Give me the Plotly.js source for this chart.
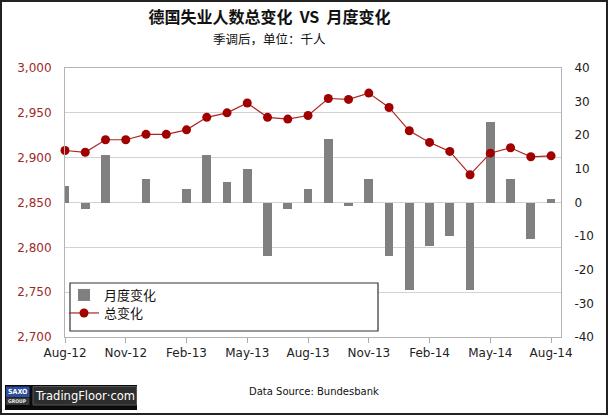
<!DOCTYPE html>
<html>
<head>
<meta charset="utf-8">
<script src="https://cdn.plot.ly/plotly-3.0.1.min.js"></script>
<style>html,body{margin:0;padding:0;background:#fff;}#chart{width:608px;height:415px;}</style>
</head>
<body>
<div id="chart"></div>
<script>
// ---- data ----
const months = ["Aug-12","Sep-12","Oct-12","Nov-12","Dec-12","Jan-13","Feb-13","Mar-13","Apr-13","May-13","Jun-13","Jul-13",
                "Aug-13","Sep-13","Oct-13","Nov-13","Dec-13","Jan-14","Feb-14","Mar-14","Apr-14","May-14","Jun-14","Jul-14","Aug-14"];
const totalChange = [2908, 2906, 2920, 2920, 2926, 2926, 2931, 2945, 2950, 2961, 2945, 2943,
                     2947, 2966, 2965, 2972, 2956, 2930, 2917, 2907, 2881, 2905, 2911, 2901, 2902];
const monthlyChange = [5, -2, 14, 0, 7, 0, 4, 14, 6, 10, -16, -2,
                       4, 19, -1, 7, -16, -26, -13, -10, -26, 24, 7, -11, 1];
const xTickLabels = ["Aug-12","Nov-12","Feb-13","May-13","Aug-13","Nov-13","Feb-14","May-14","Aug-14"];
const rightTickVals = [-40,-30,-20,-10,0,10,20,30,40];
const rightTickText = ["-40","-30","-20","-10","0","10","20","30","40"];
const seriesNames = ["月度变化","总变化"];
const titleText = "德国失业人数总变化  VS  月度变化";
const subtitleText = "季调后，单位：千人";
const sourceText = "Data Source: Bundesbank";

// ---- layout helpers (pixel -> paper) ----
const W = 608, H = 415, L = 65, R = 47, T = 68, B = 78;
const pw = W - L - R, ph = H - T - B;
const px = v => (v - L) / pw;
const py = v => (H - B - v) / ph;

const bars = {
  type: 'bar', x: months, y: monthlyChange, name: seriesNames[0],
  yaxis: 'y', width: 0.43, legend: 'legend',
  marker: {color: '#808080', line: {width: 0}}
};
const line = {
  type: 'scatter', mode: 'lines+markers', x: months, y: totalChange, name: seriesNames[1],
  yaxis: 'y2', cliponaxis: false, legend: 'legend2',
  line: {color: '#b02424', width: 1.2},
  marker: {color: '#a00000', size: 9, line: {width: 0}}
};

const tickFont = {family: 'DejaVu Sans', size: 12, color: '#222'};
const legFont = {family: 'Noto Sans CJK SC', size: 13, color: '#111'};

const layout = {
  width: W, height: H,
  margin: {l: L, r: R, t: T, b: B},
  paper_bgcolor: '#fff', plot_bgcolor: '#fff',
  showlegend: true,
  bargap: 0,
  title: {
    text: '<b>' + titleText + '</b>',
    font: {family: 'Noto Sans CJK SC', size: 16, color: '#111'},
    xref: 'container', x: 269.5 / W, xanchor: 'center',
    yref: 'container', y: 1 - 17 / H, yanchor: 'middle'
  },
  xaxis: {
    type: 'category', categoryorder: 'array', categoryarray: months,
    range: [0, 24.49],
    tickmode: 'array', tickvals: xTickLabels, ticktext: xTickLabels,
    ticks: 'outside', ticklen: 5, tickcolor: '#aaa', tickwidth: 1,
    showgrid: false, showline: true, linecolor: '#b4b4b4', linewidth: 1, mirror: true,
    tickfont: tickFont, fixedrange: true
  },
  yaxis: {
    side: 'right', range: [-40, 40],
    tickmode: 'array', tickvals: rightTickVals, ticktext: rightTickText,
    showgrid: false, zeroline: false,
    ticks: 'outside', ticklen: 10, tickcolor: 'rgba(0,0,0,0)',
    showline: true, linecolor: '#b4b4b4', linewidth: 1, mirror: true,
    tickfont: tickFont, fixedrange: true
  },
  yaxis2: {
    overlaying: 'y', side: 'left', range: [2700, 3000], dtick: 50, tick0: 2700,
    tickformat: ',d',
    showgrid: true, gridcolor: '#d2d2d2', gridwidth: 1, zeroline: false,
    ticks: 'outside', ticklen: 10, tickcolor: 'rgba(0,0,0,0)',
    showline: false,
    tickfont: {family: 'DejaVu Sans', size: 12, color: '#9c2a2a'}, fixedrange: true
  },
  legend: {
    x: px(64), y: py(295), xanchor: 'left', yanchor: 'middle',
    bgcolor: 'rgba(0,0,0,0)', borderwidth: 0, font: legFont, itemwidth: 30
  },
  legend2: {
    x: px(64), y: py(313), xanchor: 'left', yanchor: 'middle',
    bgcolor: 'rgba(0,0,0,0)', borderwidth: 0, font: legFont, itemwidth: 30
  },
  shapes: [
    // legend box
    {type: 'rect', xref: 'paper', yref: 'paper', layer: 'above',
     x0: px(70), x1: px(378), y0: py(331), y1: py(283),
     fillcolor: '#fff', line: {color: '#333', width: 1.2}},
    // outer frame
    {type: 'rect', xref: 'paper', yref: 'paper', layer: 'above',
     x0: px(1), x1: px(607), y0: py(414), y1: py(1),
     fillcolor: 'rgba(0,0,0,0)', line: {color: '#222', width: 2}},
    // logo band
    {type: 'rect', xref: 'paper', yref: 'paper', layer: 'above',
     x0: px(5), x1: px(137), y0: py(410), y1: py(385),
     fillcolor: '#0a0a0a', line: {width: 0}},
    {type: 'rect', xref: 'paper', yref: 'paper', layer: 'above',
     x0: px(6), x1: px(29.5), y0: py(397), y1: py(386.5),
     fillcolor: '#2c4f9e', line: {width: 0}},
    {type: 'rect', xref: 'paper', yref: 'paper', layer: 'above',
     x0: px(6), x1: px(29.5), y0: py(405), y1: py(397.5),
     fillcolor: '#3a3a3a', line: {width: 0}},
    {type: 'rect', xref: 'paper', yref: 'paper', layer: 'above',
     x0: px(33), x1: px(136.5), y0: py(405), y1: py(386.5),
     fillcolor: '#2e2e2e', line: {color: '#555', width: 1}}
  ],
  annotations: [
    {text: subtitleText, xref: 'paper', yref: 'paper', x: px(269.5), y: py(38),
     xanchor: 'center', yanchor: 'middle', showarrow: false,
     font: {family: 'Noto Sans CJK SC', size: 12.5, color: '#111'}},
    {text: sourceText, xref: 'paper', yref: 'paper', x: px(314), y: py(392),
     xanchor: 'center', yanchor: 'middle', showarrow: false,
     font: {family: 'DejaVu Sans', size: 10, color: '#111'}},
    {text: '<b>SAXO</b>', xref: 'paper', yref: 'paper', x: px(17.7), y: py(392),
     xanchor: 'center', yanchor: 'middle', showarrow: false,
     font: {family: 'DejaVu Sans Condensed', size: 7, color: '#fff'}},
    {text: '<b>GROUP</b>', xref: 'paper', yref: 'paper', x: px(17.7), y: py(401.3),
     xanchor: 'center', yanchor: 'middle', showarrow: false,
     font: {family: 'DejaVu Sans Condensed', size: 5, color: '#eee'}},
    {text: 'TradingFloor·com', xref: 'paper', yref: 'paper', x: px(85), y: py(395.5),
     xanchor: 'center', yanchor: 'middle', showarrow: false,
     font: {family: 'DejaVu Sans', size: 11.5, color: '#fff'}}
  ]
};

Plotly.newPlot('chart', [bars, line], layout, {displayModeBar: false, staticPlot: true});
</script>
</body>
</html>
